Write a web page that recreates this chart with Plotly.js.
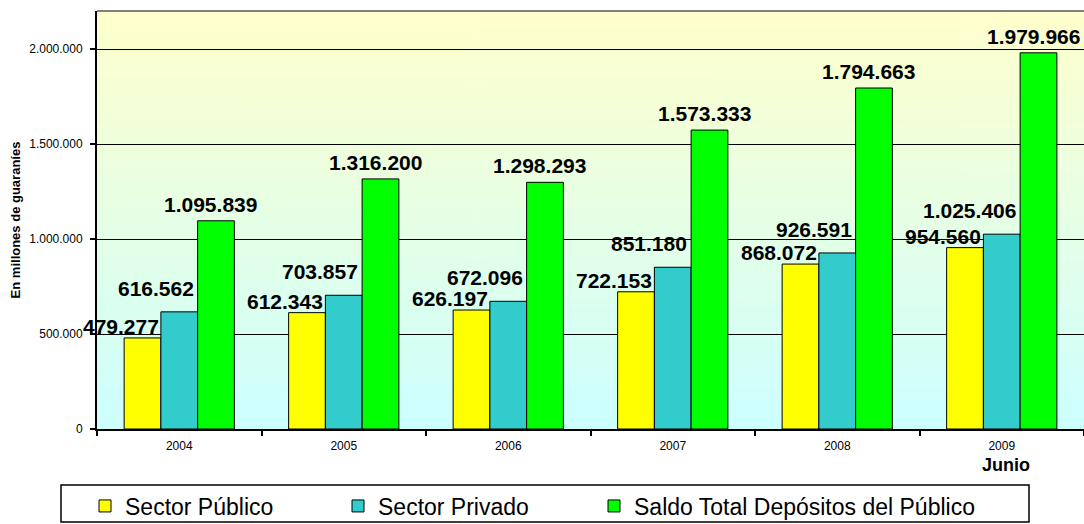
<!DOCTYPE html>
<html>
<head>
<meta charset="utf-8">
<script src="https://cdn.plot.ly/plotly-3.0.1.min.js"></script>
<style>
  html, body { margin: 0; padding: 0; background: #ffffff; }
  #chart { width: 1084px; height: 524px; }
</style>
</head>
<body>
<div id="chart"></div>
<script>
// ---- Data ----
var years = ['2004', '2005', '2006', '2007', '2008', '2009'];
var sectorPublico = [479277, 612343, 626197, 722153, 868072, 954560];
var sectorPrivado = [616562, 703857, 672096, 851180, 926591, 1025406];
var saldoTotal = [1095839, 1316200, 1298293, 1573333, 1794663, 1979966];
var seriesNames = ['Sector Público', 'Sector Privado', 'Saldo Total Depósitos del Público'];
var yTickVals = [0, 500000, 1000000, 1500000, 2000000];

// ---- Styles ----
var colors = ['#FFFF00', '#33CCCC', '#00FF00'];
var FONT = 'Arial, "Liberation Sans", Helvetica, sans-serif';

function fmt(v) {
  return String(v).replace(/\B(?=(\d{3})+(?!\d))/g, '.');
}

// gradient background image
function gradientURL() {
  var c = document.createElement('canvas');
  c.width = 4; c.height = 256;
  var g = c.getContext('2d');
  var grd = g.createLinearGradient(0, 0, 0, 256);
  grd.addColorStop(0, '#FFFFCC');
  grd.addColorStop(1, '#CCFFFF');
  g.fillStyle = grd;
  g.fillRect(0, 0, 4, 256);
  return c.toDataURL('image/png');
}

var allSeries = [sectorPublico, sectorPrivado, saldoTotal];
var legendIds = ['legend', 'legend', 'legend2'];
var traces = allSeries.map(function (vals, i) {
  return {
    type: 'bar',
    name: seriesNames[i],
    x: years,
    y: vals,
    legend: legendIds[i],
    marker: { color: colors[i], line: { color: '#000000', width: 1 } },
    hoverinfo: 'skip'
  };
});

// label placement style per series (bar geometry with bargap 0.33)
var barW = (1 - 0.33) / 3;
var labelStyle = [
  { dx: -barW / 2, xanchor: 'right', xshift: 0, yshift: -2 },
  { dx: barW / 2, xanchor: 'right', xshift: -2, yshift: 10 },
  { dx: barW, xanchor: 'center', xshift: -5, yshift: 3 }
];

var annotations = [];
allSeries.forEach(function (vals, s) {
  var st = labelStyle[s];
  vals.forEach(function (v, i) {
    annotations.push({
      xref: 'x', yref: 'y',
      x: i + st.dx, y: v,
      text: fmt(v),
      showarrow: false,
      xanchor: st.xanchor, yanchor: 'bottom',
      xshift: st.xshift, yshift: st.yshift,
      font: { family: FONT, size: 21, color: '#000000', weight: 'bold' }
    });
  });
});

annotations.push({
  xref: 'x', yref: 'paper',
  x: years.length - 1, y: 0,
  text: '<b>Junio</b>',
  showarrow: false,
  xanchor: 'center', yanchor: 'top',
  xshift: 4, yshift: -24,
  font: { family: FONT, size: 18, color: '#000000' }
});

var legendFont = { family: FONT, size: 23, color: '#000000' };

var layout = {
  width: 1084,
  height: 524,
  margin: { l: 97, r: 0, t: 11, b: 95 },
  paper_bgcolor: '#FFFFFF',
  plot_bgcolor: 'rgba(0,0,0,0)',
  separators: ',.',
  barmode: 'group',
  bargap: 0.33,
  bargroupgap: 0,
  showlegend: true,
  hovermode: false,
  font: { family: FONT, color: '#000000' },
  xaxis: {
    type: 'category',
    range: [-0.5, years.length - 0.5],
    autorange: false,
    showline: true, linecolor: '#000000', linewidth: 2,
    ticks: 'outside', tickson: 'boundaries', ticklen: 5, tickwidth: 2, tickcolor: '#000000',
    ticklabelstandoff: 5,
    showgrid: false, zeroline: false,
    tickfont: { family: FONT, size: 12, color: '#000000' },
    fixedrange: true
  },
  yaxis: {
    range: [0, 2200000],
    autorange: false,
    tickvals: yTickVals,
    tickformat: ',d',
    showline: true, linecolor: '#000000', linewidth: 2,
    ticks: 'outside', ticklen: 5, tickwidth: 2, tickcolor: '#000000',
    ticklabelstandoff: 5,
    showgrid: true, gridcolor: '#000000', gridwidth: 1,
    zeroline: false,
    tickfont: { family: FONT, size: 12, color: '#000000' },
    title: {
      text: '<b>En millones de guaraníes</b>',
      font: { family: FONT, size: 13, color: '#000000' },
      standoff: 6
    },
    automargin: false,
    fixedrange: true
  },
  legend: {
    orientation: 'h',
    xref: 'container', yref: 'container',
    x: 85 / 1084, xanchor: 'left',
    y: 1 - 506 / 524, yanchor: 'middle',
    bgcolor: 'rgba(0,0,0,0)',
    borderwidth: 0,
    font: legendFont,
    entrywidth: 208,
    traceorder: 'normal'
  },
  legend2: {
    orientation: 'h',
    xref: 'container', yref: 'container',
    x: 594 / 1084, xanchor: 'left',
    y: 1 - 506 / 524, yanchor: 'middle',
    bgcolor: 'rgba(0,0,0,0)',
    borderwidth: 0,
    font: legendFont
  },
  images: [{
    source: gradientURL(),
    xref: 'paper', yref: 'paper',
    x: 0, y: 1, sizex: 1, sizey: 1,
    xanchor: 'left', yanchor: 'top',
    sizing: 'stretch', layer: 'below'
  }],
  shapes: [
    {
      type: 'line', xref: 'paper', yref: 'paper',
      x0: 0, x1: 1, y0: 1, y1: 1,
      line: { color: '#808080', width: 2 }
    },
    {
      // legend frame
      type: 'rect', xref: 'paper', yref: 'paper',
      x0: (61 - 97) / 987, x1: (1029 - 97) / 987,
      y0: (429 - 485) / 418, y1: (429 - 522) / 418,
      line: { color: '#000000', width: 1.5 },
      fillcolor: 'rgba(0,0,0,0)'
    }
  ],
  annotations: annotations
};

Plotly.newPlot('chart', traces, layout, { displayModeBar: false, staticPlot: true });
</script>
</body>
</html>
